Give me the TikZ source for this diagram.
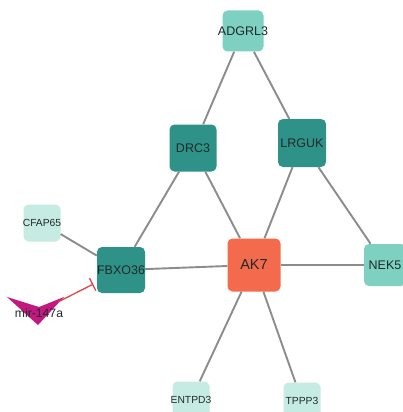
\documentclass[tikz,border=0pt]{standalone}
\usepackage{fontspec}
\setmainfont{Liberation Sans}
\usetikzlibrary{arrows.meta}
\definecolor{hubred}{HTML}{F36B4C}
\definecolor{tealdark}{HTML}{2F9288}
\definecolor{tealmid}{HTML}{7ED0C1}
\definecolor{teallight}{HTML}{C6EBE3}
\definecolor{mirpink}{HTML}{C2187F}
\definecolor{inhibred}{HTML}{E0444C}
\definecolor{edgegray}{HTML}{8C8C8C}
\definecolor{labelink}{HTML}{1E2A2A}
% zero-width label so the box keeps its own size
\newcommand{\gname}[1]{\makebox[0pt]{#1}}
\tikzset{
  gene/.style={rounded corners=5pt, inner sep=0pt, text=labelink},
  hub/.style={gene, fill=hubred, minimum size=53pt, font=\fontsize{14.5}{16}\selectfont},
  core/.style={gene, fill=tealdark, font=\fontsize{12.5}{14}\selectfont},
  mid/.style={gene, fill=tealmid, font=\fontsize{12.5}{14}\selectfont},
  leaf/.style={gene, fill=teallight, minimum size=37pt, font=\fontsize{10.3}{12}\selectfont},
  link/.style={draw=edgegray, line width=1.9pt},
  inhibit/.style={draw=inhibred, line width=1.3pt, -{Bar[width=14pt,line width=1.3pt]}, shorten >=4pt}
}
\begin{document}
\begin{tikzpicture}[x=1pt, y=-1pt]
\clip (0,0) rectangle (403,412);
\fill[white] (0,0) rectangle (403,412);

% gene nodes
\node[hub] (ak7) at (254,265) {\gname{AK7}};
\node[mid, minimum size=41pt] (adgrl3) at (243,31) {\gname{ADGRL3}};
\node[core, minimum size=47pt] (drc3) at (193,148) {\gname{DRC3}};
\node[core, minimum size=48pt] (lrguk) at (302,143) {\gname{LRGUK}};
\node[mid, minimum size=42pt] (nek5) at (385,265) {\gname{NEK5}};
\node[core, minimum width=48pt, minimum height=46pt] (fbxo36) at (121,270) {\gname{FBXO36}};
\node[leaf] (cfap65) at (42,223) {\gname{CFAP65}};
\node[leaf] (entpd3) at (191,400) {\gname{ENTPD3}};
\node[leaf] (tppp3) at (302,401) {\gname{TPPP3}};

% interactions
\draw[link] (adgrl3) -- (drc3);
\draw[link] (adgrl3) -- (lrguk);
\draw[link] (drc3) -- (fbxo36);
\draw[link] (drc3) -- (ak7);
\draw[link] (lrguk) -- (ak7);
\draw[link] (lrguk) -- (nek5);
\draw[link] (cfap65) -- (fbxo36);
\draw[link] (fbxo36) -- (ak7);
\draw[link] (ak7) -- (nek5);
\draw[link] (ak7) -- (entpd3);
\draw[link] (ak7) -- (tppp3);

% microRNA marker and its inhibition of FBXO36
\fill[mirpink] (7,297) -- (39,307) -- (64,297) -- (38,325) -- cycle;
\coordinate (mirtip) at (58,302);
\node[text=labelink, font=\fontsize{12.2}{14}\selectfont, inner sep=0pt] (mir) at (39,313) {mir-147a};
\draw[inhibit] (mirtip) -- (fbxo36);
\end{tikzpicture}
\end{document}
